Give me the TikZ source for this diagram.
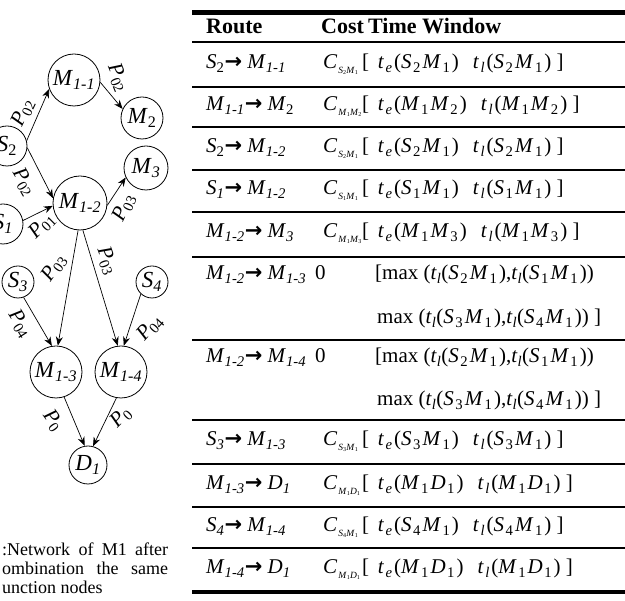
\documentclass[tikz,border=0pt]{standalone}
\usepackage{fontspec}
\setmainfont{Liberation Serif}
\newfontfamily\arrowfnt{DejaVu Sans}
\usetikzlibrary{arrows.meta}

% italic symbol with upright / italic subscript
\newcommand\vs[2]{\textit{#1}\textsubscript{#2}}
\newcommand\vsi[2]{\textit{#1}\textsubscript{\textit{#2}}}
% same, with a little extra room as in typeset formulas
\newcommand\vsp[2]{\textit{#1}\kern1.5pt\textsubscript{#2}\kern1.5pt}
\newcommand\goes{{\arrowfnt\bfseries →}}
\newcommand\pair[4]{\vsp{#1}{#2}\vsp{#3}{#4}}
% cost symbol: C with a small two-level subscript
\newcommand\tinyidx[2]{\textit{#1}\raisebox{-1.4pt}{\fontsize{6}{6}\selectfont #2}}
\newcommand\cst[4]{\textit{C}\kern1pt\raisebox{-4.5pt}{\fontsize{9.5}{10}\selectfont\tinyidx{#1}{#2}\kern0.3pt\tinyidx{#3}{#4}}}
\newcommand\twin[4]{[\ \,\vsp{t}{\textit{e}}(\pair{#1}{#2}{#3}{#4})\ \ \,\vsp{t}{\textit{l}}(\pair{#1}{#2}{#3}{#4})\ ]}
\newcommand\tlate[2]{\vs{t}{\textit{l}}(\pair{S}{#1}{M}{#2})}

\tikzset{
  vtx/.style={draw, circle, inner sep=0pt, line width=0.8pt,
    font=\fontsize{23}{25}\selectfont},
  link/.style={-{Stealth[length=9pt,width=7pt]}, line width=0.7pt},
  plab/.style={inner sep=0pt, font=\fontsize{21}{23}\selectfont},
  cell/.style={anchor=base west, inner sep=0pt, font=\fontsize{21}{25}\selectfont},
  head/.style={cell, font=\fontsize{22}{25}\selectfont\bfseries},
  capline/.style={anchor=base west, inner sep=0pt, font=\fontsize{18}{20}\selectfont},
  thinrule/.style={line width=2pt},
  thickrule/.style={line width=4.5pt}
}

\begin{document}
\begin{tikzpicture}[x=1pt,y=-1pt]
\useasboundingbox (0,0) rectangle (625,601);

% ---- network nodes ----
\node[vtx, minimum size=52pt] (M11) at (74,80)  {\vsi{M}{1-1}};
\node[vtx, minimum size=42pt] (M2)  at (142,118) {\vs{M}{2}};
\node[vtx, minimum size=40pt] (S2)  at (7,146)  {\vs{S}{2}};
\node[vtx, minimum size=44pt] (M3)  at (146,168) {\vsi{M}{3}};
\node[vtx, minimum size=54pt] (M12) at (80,203) {\vsi{M}{1-2}};
\node[vtx, minimum size=40pt] (S1)  at (3,224)  {\vsi{S}{1}};
\node[vtx, minimum size=32pt] (S3)  at (18,282) {\vsi{S}{3}};
\node[vtx, minimum size=32pt] (S4)  at (152,282) {\vsi{S}{4}};
\node[vtx, minimum size=52pt] (M13) at (56,372) {\vsi{M}{1-3}};
\node[vtx, minimum size=52pt] (M14) at (121,372) {\vsi{M}{1-4}};
\node[vtx, minimum size=38pt] (D1)  at (88,465) {\vsi{D}{1}};

% ---- connectors ----
\draw[link] (S2.15)   -- (M11.200);
\draw[link] (M11.-5)  -- (M2.155);
\draw[link] (S2.-5)   -- (M12.170);
\draw[link] (S1.10)   -- (M12.186);
\draw[link] (M12.-5)  -- (M3.205);
\draw[link] (M12.-94) -- (M13.86);
\draw[link] (M12.-84) -- (M14.97);
\draw[link] (S3.-70)  -- (M13.99);
\draw[link] (S4.227)  -- (M14.84);
\draw[link] (M13.-72) -- (D1.100);
\draw[link] (M14.-100) -- (D1.75);

% ---- connector labels ----
\node[plab, rotate=65]  (p1)  at (23,113)  {\vs{P}{02}};
\node[plab, rotate=-68] (p2)  at (118,78)  {\vs{P}{02}};
\node[plab, rotate=-60] (p3)  at (24,182)  {\vs{P}{02}};
\node[plab, rotate=45]  (p4)  at (42,226)  {\vs{P}{01}};
\node[plab, rotate=65]  (p5)  at (124,208) {\vs{P}{03}};
\node[plab, rotate=55]  (p6)  at (54,268)  {\vs{P}{03}};
\node[plab, rotate=-70] (p7)  at (107,261) {\vs{P}{03}};
\node[plab, rotate=-58] (p8)  at (20,324)  {\vs{P}{04}};
\node[plab, rotate=48]  (p9)  at (150,328) {\vs{P}{04}};
\node[plab, rotate=-54] (p10) at (53,421)  {\vs{P}{0}};
\node[plab, rotate=45]  (p11) at (121,417) {\vs{P}{0}};

% ---- caption ----
\node[capline] (cap1) at (2,556) {\makebox[166pt][s]{:Network of M1 after}};
\node[capline] (cap2) at (2,575) {\makebox[166pt][s]{ombination the same}};
\node[capline] (cap3) at (2,594) {unction nodes};

% ---- table rules ----
\draw[thickrule] (192,12.5) -- (625,12.5);
\foreach \yy in {42,87,127,170,212,257,340,420,464,507,548}
  \draw[thinrule] (192,\yy) -- (625,\yy);
\draw[thickrule] (192,592) -- (625,592);

% ---- table header ----
\node[head] (hR) at (206,34) {Route};
\node[head] (hC) at (321,34) {Cost};
\node[head] (hT) at (368,34) {Time Window};

% ---- table body ----
\node[cell] (r1a) at (206,69) {\vs{S}{2}\goes\ \vsi{M}{1-1}};
\node[cell] (r1b) at (323,69) {\cst{S}{2}{M}{1}};
\node[cell] (r1c) at (362,69) {\twin{S}{2}{M}{1}};

\node[cell] (r2a) at (206,111) {\vsi{M}{1-1}\goes\ \vs{M}{2}};
\node[cell] (r2b) at (323,111) {\cst{M}{1}{M}{2}};
\node[cell] (r2c) at (362,111) {\twin{M}{1}{M}{2}};

\node[cell] (r3a) at (206,153) {\vs{S}{2}\goes\ \vsi{M}{1-2}};
\node[cell] (r3b) at (323,153) {\cst{S}{2}{M}{1}};
\node[cell] (r3c) at (362,153) {\twin{S}{2}{M}{1}};

\node[cell] (r4a) at (206,195) {\vsi{S}{1}\goes\ \vsi{M}{1-2}};
\node[cell] (r4b) at (323,195) {\cst{S}{1}{M}{1}};
\node[cell] (r4c) at (362,195) {\twin{S}{1}{M}{1}};

\node[cell] (r5a) at (206,238) {\vsi{M}{1-2}\goes\ \vsi{M}{3}};
\node[cell] (r5b) at (323,238) {\cst{M}{1}{M}{3}};
\node[cell] (r5c) at (362,238) {\twin{M}{1}{M}{3}};

\node[cell] (r6a) at (206,280) {\vsi{M}{1-2}\goes\ \vsi{M}{1-3}};
\node[cell] (r6b) at (315,280) {0};
\node[cell] (r6c) at (375,280) {[max (\tlate{2}{1},\tlate{1}{1})};
\node[cell] (r6d) at (377,324) {max (\tlate{3}{1},\tlate{4}{1})\ ]};

\node[cell] (r7a) at (206,363) {\vsi{M}{1-2}\goes\ \vsi{M}{1-4}};
\node[cell] (r7b) at (315,363) {0};
\node[cell] (r7c) at (375,363) {[max (\tlate{2}{1},\tlate{1}{1})};
\node[cell] (r7d) at (377,406) {max (\tlate{3}{1},\tlate{4}{1})\ ]};

\node[cell] (r8a) at (206,446) {\vsi{S}{3}\goes\ \vsi{M}{1-3}};
\node[cell] (r8b) at (323,446) {\cst{S}{3}{M}{1}};
\node[cell] (r8c) at (362,446) {\twin{S}{3}{M}{1}};

\node[cell] (r9a) at (206,490) {\vsi{M}{1-3}\goes\ \vsi{D}{1}};
\node[cell] (r9b) at (323,490) {\cst{M}{1}{D}{1}};
\node[cell] (r9c) at (362,490) {\twin{M}{1}{D}{1}};

\node[cell] (r10a) at (206,532) {\vsi{S}{4}\goes\ \vsi{M}{1-4}};
\node[cell] (r10b) at (323,532) {\cst{S}{4}{M}{1}};
\node[cell] (r10c) at (362,532) {\twin{S}{4}{M}{1}};

\node[cell] (r11a) at (206,574) {\vsi{M}{1-4}\goes\ \vsi{D}{1}};
\node[cell] (r11b) at (323,574) {\cst{M}{1}{D}{1}};
\node[cell] (r11c) at (362,574) {\twin{M}{1}{D}{1}};
\end{tikzpicture}
\end{document}
